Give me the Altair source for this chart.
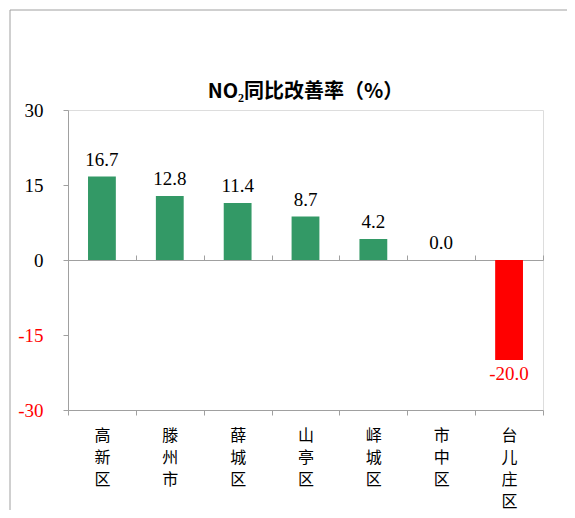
import altair as alt
import pandas as pd

categories = ["高新区", "滕州市", "薛城区", "山亭区", "峄城区", "市中区", "台儿庄区"]
values = [16.7, 12.8, 11.4, 8.7, 4.2, 0.0, -20.0]
y_ticks = [-30, -15, 0, 15, 30]
title_text = "NO₂同比改善率（%）"

df = pd.DataFrame({"cat": categories, "val": values})
df["lbl"] = [f"{v:.1f}" for v in values]
one = pd.DataFrame({"a": [0]})

W, H = 475, 300
GRAY = "#a0a0a0"
GREEN = "#339966"
RED = "#FF0000"
NUM_FONT = "Liberation Serif"
CJK_FONT = "Noto Sans CJK SC"

bar_scale = alt.Scale(domain=categories, paddingInner=0.59, paddingOuter=0.295)
axis_scale = alt.Scale(domain=categories, paddingInner=0, paddingOuter=0)
y_scale = alt.Scale(domain=[-30, 30], nice=False, zero=False)

x_bottom_axis = alt.Axis(
    orient="bottom", title=None, labelAngle=0, tickBand="extent",
    labelExpr="split(datum.label, '')", labelFont=CJK_FONT, labelFontSize=16,
    labelLineHeight=22, labelColor="black", labelBaseline="top",
    domainColor=GRAY, tickColor=GRAY, tickSize=5, labelPadding=12,
    grid=False,
)
y_axis = alt.Axis(
    values=y_ticks, title=None, grid=False, domainColor=GRAY, tickColor=GRAY,
    tickSize=5, labelPadding=20, labelFont=NUM_FONT, labelFontSize=19,
    labelExpr="'' + datum.value",
    labelColor=alt.ExprRef("datum.value < 0 ? '#FF0000' : 'black'"),
)
x_zero_axis = alt.Axis(
    orient="top", offset=-150, title=None, labels=False, tickBand="extent",
    domainColor=GRAY, tickColor=GRAY, tickSize=5, grid=False,
)

X_bar = alt.X("cat:N", scale=bar_scale, sort=categories, axis=None)
Y_shared = alt.Y("val:Q", scale=y_scale, axis=y_axis)

bottom_axis = alt.Chart(df).mark_point(opacity=0).encode(
    x=alt.X("cat:N", scale=axis_scale, sort=categories, axis=x_bottom_axis),
    y=Y_shared,
)

zero_axis = alt.Chart(df).mark_point(opacity=0).encode(
    x=alt.X("cat:N", scale=axis_scale, sort=categories, axis=x_zero_axis),
    y=Y_shared,
)

bars = alt.Chart(df).mark_bar().encode(
    x=X_bar,
    y=Y_shared,
    color=alt.condition(alt.datum.val < 0, alt.value(RED), alt.value(GREEN)),
)

pos_labels = alt.Chart(df).transform_filter(alt.datum.val >= 0).mark_text(
    baseline="bottom", dy=-7, font=NUM_FONT, fontSize=19, color="black"
).encode(x=X_bar, y=Y_shared, text="lbl:N")

neg_labels = alt.Chart(df).transform_filter(alt.datum.val < 0).mark_text(
    baseline="top", dy=5, font=NUM_FONT, fontSize=19, color=RED
).encode(x=X_bar, y=Y_shared, text="lbl:N")

title = alt.Chart(one).mark_text(
    font=CJK_FONT, fontSize=20, fontWeight="bold", baseline="alphabetic",
    align="center", color="black"
).encode(x=alt.value(W / 2), y=alt.value(-12), text=alt.value(title_text))

frame_left = alt.Chart(one).mark_rule(color=GRAY, strokeWidth=1).encode(
    x=alt.value(-58), y=alt.value(-100), y2=alt.value(400)
)
frame_top = alt.Chart(one).mark_rule(color=GRAY, strokeWidth=1).encode(
    x=alt.value(-58), x2=alt.value(500), y=alt.value(-100)
)

chart = alt.layer(
    frame_left, frame_top, bottom_axis, zero_axis, bars, pos_labels,
    neg_labels, title
).resolve_scale(x="independent").resolve_axis(x="independent").properties(
    width=W, height=H,
    autosize=alt.AutoSizeParams(type="none"),
    padding={"left": 60, "top": 102, "right": 24, "bottom": 100},
).configure_view(stroke=None).configure(background="white")

chart.save("out.html", embed_options={"renderer": "svg", "actions": False})
